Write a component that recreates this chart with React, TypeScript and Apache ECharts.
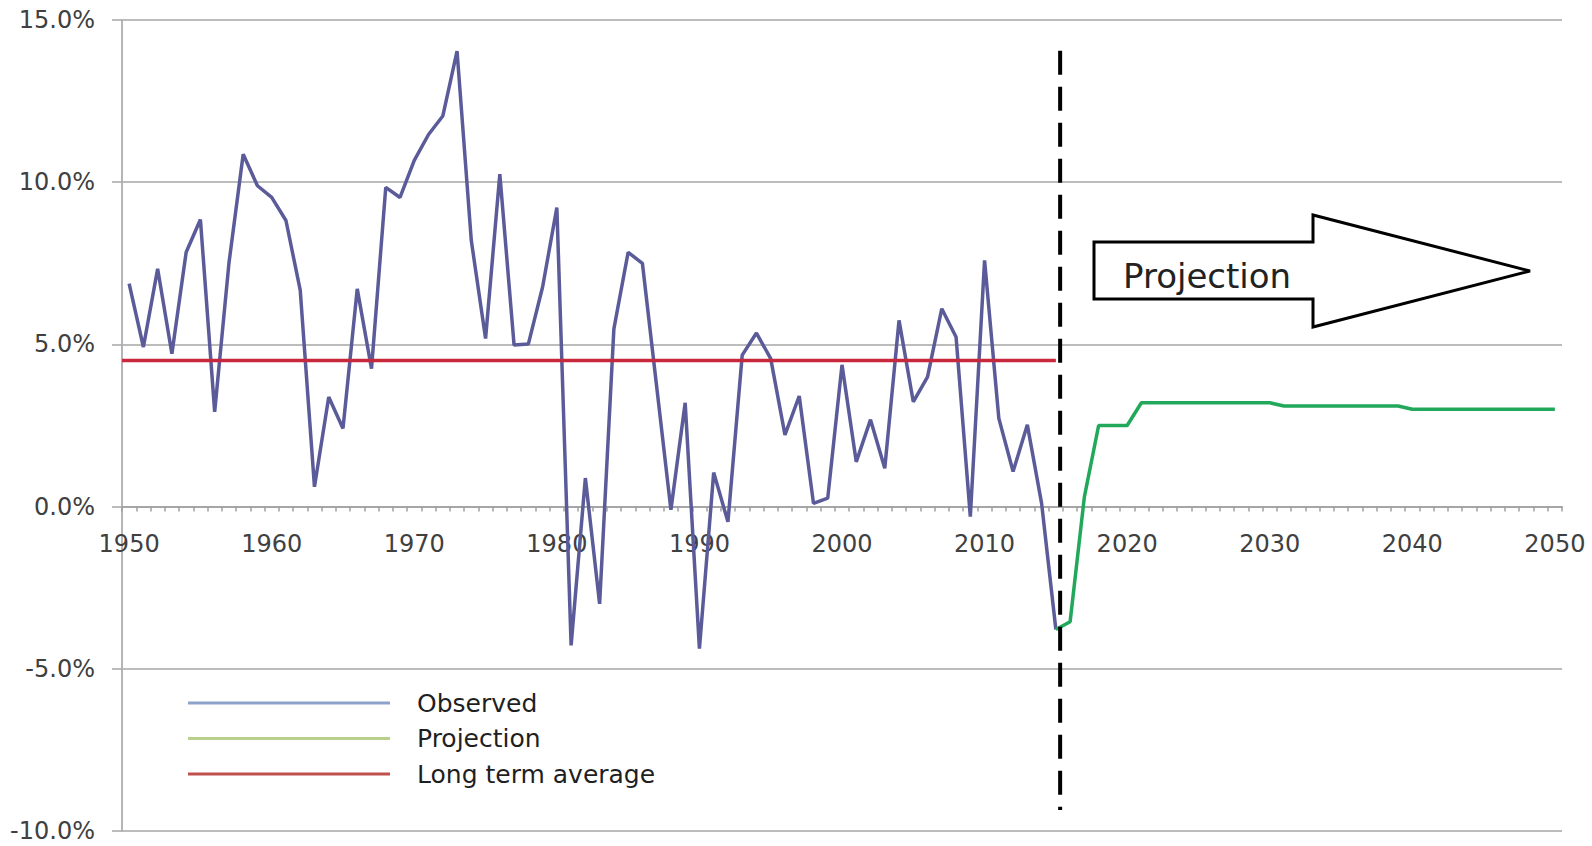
import React, { useEffect, useRef } from "react";
import * as echarts from "echarts";

// ---- Data ----
const FIRST_YEAR = 1950;
const LAST_YEAR = 2050;
const years: string[] = [];
for (let y = FIRST_YEAR; y <= LAST_YEAR; y++) years.push(String(y));

// Observed growth rate, 1950..2015 (%)
const observedStartYear = 1950;
const observed = [
  6.87, 4.92, 7.33, 4.71, 7.84, 8.85, 2.92, 7.5, 10.86, 9.89,
  9.53, 8.82, 6.67, 0.61, 3.38, 2.41, 6.71, 4.25, 9.84, 9.53,
  10.67, 11.47, 12.04, 14.04, 8.2, 5.18, 10.25, 4.98, 5.01, 6.77,
  9.22, -4.28, 0.88, -3.0, 5.48, 7.84, 7.5, 3.7, -0.1, 3.2,
  -4.38, 1.05, -0.47, 4.67, 5.35, 4.56, 2.21, 3.41, 0.1, 0.26,
  4.37, 1.38, 2.68, 1.18, 5.74, 3.23, 4.0, 6.1, 5.23, -0.31,
  7.59, 2.72, 1.08, 2.52, 0.1, -3.79,
];

// Projection, 2015..2050 (%)
const projectionStartYear = 2015;
const projection = [
  -3.79, -3.55, 0.3, 2.5, 2.5, 2.5, 3.2, 3.2, 3.2, 3.2,
  3.2, 3.2, 3.2, 3.2, 3.2, 3.2, 3.1, 3.1, 3.1, 3.1,
  3.1, 3.1, 3.1, 3.1, 3.1, 3.0, 3.0, 3.0, 3.0, 3.0,
  3.0, 3.0, 3.0, 3.0, 3.0, 3.0,
];

// Long term average over the observed period
const longTermAverage = 4.5;
const averageSpan = [1949.5, 2015];

// Divider between observed and projected
const dividerYear = 2015.3;
const dividerSpan = [14.05, -9.35];

const yMin = -10;
const yMax = 15;
const yStep = 5;

const legendNames = ["Observed", "Projection", "Long term average"];
const arrowLabel = "Projection";

function alignToYears(values: number[], startYear: number): (number | null)[] {
  return years.map((y) => {
    const i = Number(y) - startYear;
    return i >= 0 && i < values.length ? values[i] : null;
  });
}

const FONT = "DejaVu Sans";
const W = 1592;
const H = 846;
const GRID = { left: 122, right: 30, top: 20, bottom: 15 };

export default function App() {
  const ref = useRef<HTMLDivElement>(null);

  useEffect(() => {
    if (!ref.current) return;
    const chart = echarts.init(ref.current, null, { renderer: "svg" });

    // place the category axis at the zero level of the value axis
    const gridHeight = H - GRID.top - GRID.bottom;
    const zeroOffset = -((0 - yMin) / (yMax - yMin)) * gridHeight;

    const option: any = {
      animation: false,
      backgroundColor: "#ffffff",
      grid: {
        left: GRID.left,
        right: GRID.right,
        top: GRID.top,
        bottom: GRID.bottom,
        containLabel: false,
        outerBoundsMode: "none",
      },
      legend: {
        show: true,
        orient: "vertical",
        left: 188,
        top: 689,
        padding: 0,
        itemGap: 7.5,
        itemWidth: 202,
        itemHeight: 3,
        icon: "rect",
        selectedMode: false,
        textStyle: {
          fontSize: 25,
          fontFamily: FONT,
          color: "#1f1f1f",
          lineHeight: 28,
          padding: [0, 0, 0, 22],
        },
        data: [
          { name: legendNames[0], itemStyle: { color: "#8DA3C9" } },
          { name: legendNames[1], itemStyle: { color: "#B9CF8C" } },
          { name: legendNames[2], itemStyle: { color: "#C0504D" } },
        ],
      },
      xAxis: [
        {
          type: "category",
          data: years,
          boundaryGap: true,
          position: "bottom",
          offset: zeroOffset,
          axisLine: { onZero: false, lineStyle: { color: "#a6a6a6", width: 2 } },
          axisTick: {
            show: true,
            interval: 0,
            length: 5,
            lineStyle: { color: "#a0a0a0", width: 1.5 },
          },
          axisLabel: {
            interval: 9,
            margin: 25,
            color: "#404040",
            fontSize: 24,
            fontFamily: FONT,
          },
          splitLine: { show: false },
        },
        {
          type: "value",
          min: averageSpan[0],
          max: LAST_YEAR + 0.5,
          show: false,
        },
      ],
      yAxis: {
        type: "value",
        min: yMin,
        max: yMax,
        interval: yStep,
        axisLine: { show: true, onZero: false, lineStyle: { color: "#b5b5b5", width: 2 } },
        axisTick: { show: true, length: 10, lineStyle: { color: "#a6a6a6", width: 1.5 } },
        axisLabel: {
          formatter: (v: number) => v.toFixed(1) + "%",
          margin: 27,
          color: "#404040",
          fontSize: 24,
          lineHeight: 20,
          fontFamily: FONT,
        },
        splitLine: { show: true, lineStyle: { color: "#a6a6a6", width: 1.5 } },
      },
      series: [
        {
          name: legendNames[0],
          type: "line",
          xAxisIndex: 0,
          data: alignToYears(observed, observedStartYear),
          symbol: "none",
          connectNulls: false,
          lineStyle: { color: "#5B5B9A", width: 3.5 },
          itemStyle: { color: "#5B5B9A" },
          z: 3,
        },
        {
          name: legendNames[1],
          type: "line",
          xAxisIndex: 0,
          data: alignToYears(projection, projectionStartYear),
          symbol: "none",
          lineStyle: { color: "#22A85A", width: 3.5 },
          itemStyle: { color: "#22A85A" },
          z: 3,
        },
        {
          name: legendNames[2],
          type: "line",
          xAxisIndex: 1,
          data: [
            [averageSpan[0], longTermAverage],
            [averageSpan[1], longTermAverage],
          ],
          symbol: "none",
          lineStyle: { color: "#C8283C", width: 3.5 },
          itemStyle: { color: "#C8283C" },
          z: 4,
        },
        {
          name: "divider",
          type: "line",
          xAxisIndex: 1,
          data: [
            [dividerYear, dividerSpan[0]],
            [dividerYear, dividerSpan[1]],
          ],
          symbol: "none",
          lineStyle: { color: "#000000", width: 4, type: [24, 12], cap: "butt" },
          itemStyle: { color: "#000000" },
          z: 5,
        },
      ],
      graphic: [
        {
          type: "polygon",
          z: 10,
          shape: {
            points: [
              [1094, 242],
              [1313, 242],
              [1313, 215],
              [1530, 271],
              [1313, 327],
              [1313, 299],
              [1094, 299],
            ],
          },
          style: { fill: "#ffffff", stroke: "#000000", lineWidth: 3 },
        },
        {
          type: "text",
          z: 11,
          x: 1123,
          y: 276,
          style: {
            text: arrowLabel,
            font: `34px "${FONT}"`,
            fill: "#222222",
            verticalAlign: "middle",
            align: "left",
          },
        },
      ],
    };

    chart.setOption(option);
    return () => chart.dispose();
  }, []);

  return (
    <div
      ref={ref}
      style={{ position: "fixed", left: 0, top: 0, width: W, height: H, background: "#fff" }}
    />
  );
}
